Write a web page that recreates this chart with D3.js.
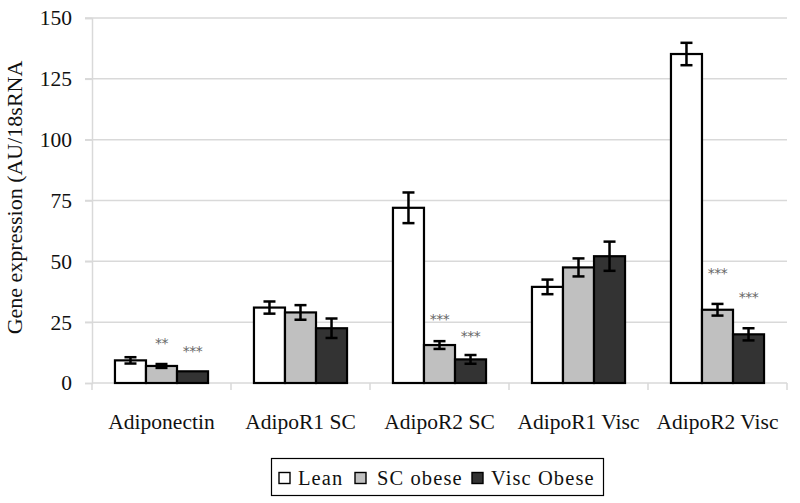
<!DOCTYPE html>
<html><head><meta charset="utf-8">
<script src="https://cdn.jsdelivr.net/npm/d3@7"></script>
<style>body{margin:0;background:#fff}svg{display:block}</style>
</head><body>
<script>
const categories = ["Adiponectin","AdipoR1 SC","AdipoR2 SC","AdipoR1 Visc","AdipoR2 Visc"];
const seriesNames = ["Lean","SC obese","Visc Obese"];
const leanVals = [9.3, 31, 72, 39.5, 135.2];
const leanErr  = [1.3, 2.5, 6.3, 3.0, 4.6];
const scVals   = [7.0, 29, 15.6, 47.5, 30.1];
const scErr    = [0.8, 3.0, 1.6, 3.7, 2.4];
const viscVals = [4.8, 22.5, 9.7, 52.1, 20.0];
const viscErr  = [0.3, 4.0, 1.8, 6.0, 2.5];
const scSig    = ["**", "", "***", "", "***"];
const scSigAt  = [17.5, null, 27.5, null, 46.5];
const viscSig  = ["***", "", "***", "", "***"];
const viscSigAt= [14.5, null, 20.5, null, 36.5];
const yTicks = [0,25,50,75,100,125,150];
const yTitle = "Gene expression (AU/18sRNA";

const W=800,H=503;
const m={left:92,right:13,top:18,bottom:120};
const colors=["#ffffff","#c0c0c0","#333333"];
const svg=d3.select("body").append("svg").attr("width",W).attr("height",H);
const font="'Liberation Serif','Times New Roman',serif";
const fs=21.5;

const x0=d3.scaleBand().domain(categories).range([m.left,W-m.right]).padding(0);
const x1=d3.scaleBand().domain(seriesNames).range([0,x0.bandwidth()]).paddingInner(0).paddingOuter(0.74);
const y=d3.scaleLinear().domain([0,150]).range([H-m.bottom,m.top]);

// gridlines
svg.append("g").selectAll("line").data(yTicks.filter(d=>d>0)).join("line")
  .attr("x1",m.left-7).attr("x2",W-m.right).attr("y1",d=>y(d)).attr("y2",d=>y(d))
  .attr("stroke","#d9d9d9").attr("stroke-width",1.5);

// y axis
const ya=svg.append("g").attr("transform",`translate(${m.left},0)`)
  .call(d3.axisLeft(y).tickValues(yTicks).tickSize(7).tickPadding(13));
ya.select(".domain").attr("stroke","#d9d9d9").attr("stroke-width",1.5);
ya.selectAll(".tick line").attr("stroke","#d9d9d9").attr("stroke-width",1.5);
ya.selectAll("text").attr("font-family",font).attr("font-size",fs).attr("fill","#111");

// x axis
const xa=svg.append("g").attr("transform",`translate(0,${y(0)})`);
xa.append("line").attr("x1",m.left).attr("x2",W-m.right).attr("stroke","#d9d9d9").attr("stroke-width",1.5);
const bounds=categories.map(c=>x0(c)).concat([x0(categories[categories.length-1])+x0.bandwidth()]);
xa.selectAll("line.t").data(bounds).join("line").attr("class","t")
  .attr("x1",d=>d).attr("x2",d=>d).attr("y1",0).attr("y2",7).attr("stroke","#d9d9d9").attr("stroke-width",1.5);
xa.selectAll("text").data(categories).join("text")
  .attr("x",d=>x0(d)+x0.bandwidth()/2).attr("y",46)
  .attr("text-anchor","middle").attr("font-family",font).attr("font-size",fs).attr("fill","#111")
  .text(d=>d);

// bars
const vals=[leanVals,scVals,viscVals], errs=[leanErr,scErr,viscErr];
const rows=[];
categories.forEach((c,i)=>seriesNames.forEach((s,j)=>rows.push({c,s,j,v:vals[j][i],e:errs[j][i],
  sig:j==1?scSig[i]:(j==2?viscSig[i]:""), sigAt:j==1?scSigAt[i]:(j==2?viscSigAt[i]:null)})));
const g=svg.append("g");
g.selectAll("rect").data(rows).join("rect")
  .attr("x",d=>x0(d.c)+x1(d.s)).attr("width",x1.bandwidth())
  .attr("y",d=>y(d.v)).attr("height",d=>y(0)-y(d.v))
  .attr("fill",d=>colors[d.j]).attr("stroke","#000").attr("stroke-width",2.2);

// error bars
const eb=svg.append("g").attr("stroke","#000").attr("stroke-width",2.5);
rows.forEach(d=>{
  const cx=x0(d.c)+x1(d.s)+x1.bandwidth()/2;
  if(d.e<0.5) return;
  eb.append("line").attr("x1",cx).attr("x2",cx).attr("y1",y(d.v+d.e)).attr("y2",y(d.v-d.e));
  eb.append("line").attr("x1",cx-6).attr("x2",cx+6).attr("y1",y(d.v+d.e)).attr("y2",y(d.v+d.e));
  eb.append("line").attr("x1",cx-6).attr("x2",cx+6).attr("y1",y(d.v-d.e)).attr("y2",y(d.v-d.e));
});

// significance
svg.append("g").selectAll("text").data(rows.filter(d=>d.sig)).join("text")
  .attr("x",d=>x0(d.c)+x1(d.s)+x1.bandwidth()/2)
  .attr("y",d=>y(d.sigAt)+8)
  .attr("text-anchor","middle").attr("font-family","'DejaVu Sans',sans-serif").attr("font-size",14)
  .attr("fill","#666").attr("letter-spacing",-0.5).text(d=>d.sig);

// y title
svg.append("text").attr("transform",`translate(22,${(y(0)+y(150))/2-3}) rotate(-90)`)
  .attr("text-anchor","middle").attr("font-family",font).attr("font-size",22).attr("fill","#111")
  .text(yTitle);

// legend
const lg=svg.append("g");
lg.append("rect").attr("x",271.5).attr("y",458.5).attr("width",332).attr("height",37)
  .attr("fill","#fff").attr("stroke","#000").attr("stroke-width",1.2);
const lx=[279,355,472], tx=[298,377,491];
seriesNames.forEach((s,j)=>{
  lg.append("rect").attr("x",lx[j]).attr("y",472.5).attr("width",11).attr("height",11)
    .attr("fill",colors[j]).attr("stroke","#000").attr("stroke-width",1.4);
  lg.append("text").attr("x",tx[j]).attr("y",485)
    .attr("font-family",font).attr("font-size",20.5).attr("letter-spacing",1.1).attr("fill","#111").text(s);
});
</script>
</body></html>
